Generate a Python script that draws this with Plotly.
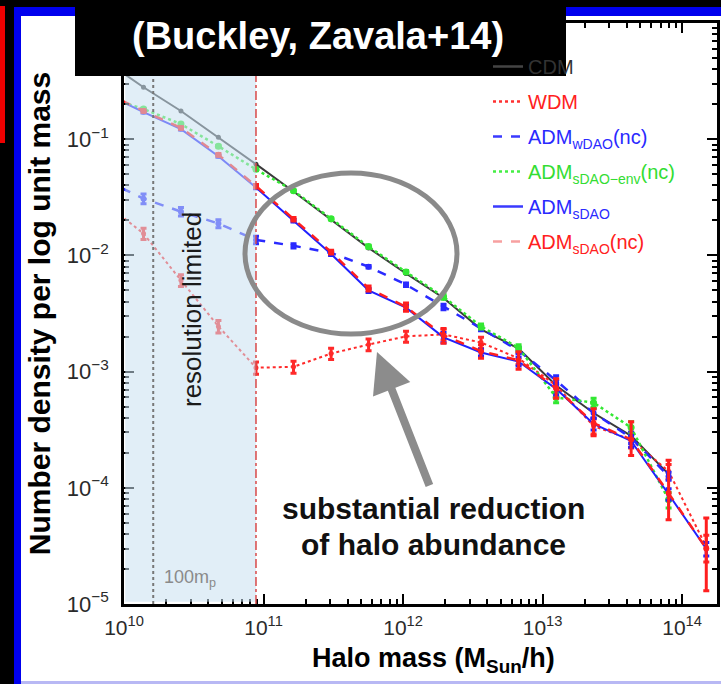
import plotly.graph_objects as go

# ---------------- data ----------------
halo_mass = [7.41e9, 1.38e10, 2.56e10, 4.75e10, 8.83e10, 1.64e11, 3.05e11, 5.66e11,
             1.05e12, 1.95e12, 3.62e12, 6.73e12, 1.25e13, 2.32e13, 4.31e13, 8.0e13, 1.49e14]

cdm = [0.47, 0.28, 0.175, 0.104, 0.061, 0.0355, 0.0203, 0.0116, 0.0070, 0.0043,
       0.00231, 0.00158, 0.00076, 0.00044, 0.00028, 0.000131, None]
wdm = [0.0279, 0.0154, 0.0061, 0.00245, 0.00108, 0.0011, 0.00143, 0.00171, 0.00201,
       0.00209, 0.00178, 0.0013, 0.00076, 0.00034, 0.00026, 0.000139, 0.000031]
adm_wdao_nc = [0.0441, 0.0308, 0.0238, 0.0188, 0.0136, 0.0121, 0.0105, 0.0080, 0.0056,
               0.0036, 0.00235, 0.00152, 0.00084, 0.00044, 0.00027, 0.000126, None]
adm_sdao_env_nc = [0.23, 0.182, 0.135, 0.087, 0.055, 0.036, 0.0207, 0.0119, 0.0072,
                   0.0044, 0.00245, 0.0016, 0.0006, 0.00054, 0.00033, 0.000079, None]
adm_sdao = [0.245, 0.171, 0.122, 0.0713, 0.0384, 0.0199, 0.0103, 0.0050, 0.00355,
            0.00197, 0.00146, 0.00122, 0.00071, 0.000355, 0.000253, 0.000088, 0.0000299]
adm_sdao_nc = [0.25, 0.175, 0.125, 0.0735, 0.0395, 0.0205, 0.0107, 0.0052, 0.0036,
               0.00205, 0.0015, 0.00125, 0.00072, 0.00036, 0.00026, 0.00009, 0.00003]

# error bars
wdm_err = [0.003, 0.0017, 0.0007, 0.0003, 0.00013, 0.00013, 0.00016, 0.0002, 0.00022,
           0.00022, 0.0002, 0.00015, 0.0001, 0.00005, 0.00004, 0.00002, 0.000008]
sdao_nc_err_plus = [0.005, 0.004, 0.003, 0.002, 0.0012, 0.0007, 0.0004, 0.00025, 0.0003,
                    0.0003, 0.0002, 0.00023, 0.00015, 0.00012, 0.00011, 0.000083, 0.000025]
sdao_nc_err_minus = [0.005, 0.004, 0.003, 0.002, 0.0012, 0.0007, 0.0004, 0.00025, 0.0003,
                     0.0003, 0.0002, 0.0002, 0.00013, 0.00008, 0.00007, 0.000037, 0.000017]
env_err = [0.004, 0.003, 0.002, 0.0015, 0.001, 0.0006, 0.0004, 0.0003, 0.0002, 0.0002,
           0.00012, 0.0001, 0.00006, 0.00005, 0.00004, 0.000012, 0]
sdao_err = [0.004, 0.003, 0.002, 0.0015, 0.001, 0.0005, 0.0003, 0.0002, 0.0002, 0.0002,
            0.0001, 0.0001, 0.00008, 0.00004, 0.00003, 0.00001, 0.000004]

res_mass = 8.83e10        # resolution limit (red dashed line)
mp100_mass = 1.62e10      # 100 particle masses (grey dotted line)

x_tick_vals = [1e10, 1e11, 1e12, 1e13, 1e14]
x_tick_text = ["10<sup>10</sup>", "10<sup>11</sup>", "10<sup>12</sup>", "10<sup>13</sup>", "10<sup>14</sup>"]
y_tick_vals = [1e-5, 1e-4, 1e-3, 1e-2, 1e-1]
y_tick_text = ["10<sup>−5</sup>", "10<sup>−4</sup>", "10<sup>−3</sup>", "10<sup>−2</sup>", "10<sup>−1</sup>"]

legend_names = ["CDM", "WDM", "ADM<sub>wDAO</sub>(nc)", "ADM<sub>sDAO−env</sub>(nc)",
                "ADM<sub>sDAO</sub>", "ADM<sub>sDAO</sub>(nc)"]

# ---------------- layout geometry ----------------
W, H = 721, 684
L, R, T, B = 124, 4, 23, 80
PW, PH = W - L - R, H - T - B


def px(xp):
    return (xp - L) / PW


def py(yp):
    return (H - B - yp) / PH


FONT = "Liberation Sans"
fig = go.Figure()

series = [
    # (y, color, dash, width, marker size, err+, err-, legend text color)
    (cdm, "#3a3a3a", "solid", 2, 5, None, None, "#333333"),
    (wdm, "#ff2a2a", "dot", 2, 5, wdm_err, wdm_err, "#ff2020"),
    (adm_wdao_nc, "#2a2aff", "dash", 2.5, 6, sdao_err, sdao_err, "#2a2aff"),
    (adm_sdao_env_nc, "#33e833", "dot", 2.5, 7, env_err, env_err, "#33dd33"),
    (adm_sdao, "#2020ff", "solid", 2, 5, sdao_err, sdao_err, "#2a2aff"),
    (adm_sdao_nc, "#ff1f1f", "dash", 2.5, 6, sdao_nc_err_plus, sdao_nc_err_minus, "#ff2020"),
]
legend_line_colors = ["#444444", "#ff3030", "#3a3aff", "#44ee44", "#3a3aff", "#f7a0a0"]

for i, (yv, col, dash, w, ms, ep, em, tcol) in enumerate(series):
    err = None
    if ep is not None:
        err = dict(type="data", array=ep, arrayminus=em, symmetric=False,
                   color=col, thickness=3, width=3)
    fig.add_trace(go.Scatter(
        x=halo_mass, y=yv, mode="lines+markers",
        line=dict(color=col, dash=dash, width=w),
        marker=dict(color=col, size=ms, symbol="circle"),
        error_y=err, showlegend=False, connectgaps=False, hoverinfo="skip"))

for i, (yv, col, dash, w, ms, ep, em, tcol) in enumerate(series):
    fig.add_trace(go.Scatter(
        x=[None], y=[None], mode="lines",
        line=dict(color=legend_line_colors[i], dash=dash, width=2.5),
        name=f"<span style='color:{tcol}'>{legend_names[i]}</span>",
        legendgroup=f"g{i}", showlegend=True))

shapes = []
# slide background & borders
shapes.append(dict(type="rect", xref="paper", yref="paper", layer="below",
                   x0=px(21), x1=px(W + 5), y0=py(681), y1=py(16),
                   fillcolor="white", line=dict(width=0)))
shapes.append(dict(type="rect", xref="paper", yref="paper", layer="below",
                   x0=px(14), x1=px(W + 5), y0=py(16), y1=py(7),
                   fillcolor="#0000ee", line=dict(width=0)))
shapes.append(dict(type="rect", xref="paper", yref="paper", layer="below",
                   x0=px(14), x1=px(21), y0=py(H + 5), y1=py(7),
                   fillcolor="#0000ee", line=dict(width=0)))
shapes.append(dict(type="rect", xref="paper", yref="paper", layer="below",
                   x0=px(21), x1=px(W + 5), y0=py(H + 5), y1=py(681),
                   fillcolor="#b8b8f4", line=dict(width=0)))
shapes.append(dict(type="rect", xref="paper", yref="paper", layer="below",
                   x0=px(0), x1=px(5), y0=py(143), y1=py(6),
                   fillcolor="#ee0000", line=dict(width=0)))
# resolution-limited shading
shapes.append(dict(type="rect", xref="x", yref="paper", layer="above",
                   x0=1.02e10, x1=res_mass, y0=0.004, y1=1,
                   fillcolor="rgb(200,224,240)", opacity=0.55, line=dict(width=0)))
# vertical guide lines
shapes.append(dict(type="line", xref="x", yref="paper", layer="above",
                   x0=mp100_mass, x1=mp100_mass, y0=0, y1=1,
                   line=dict(color="#777777", width=2, dash="dot")))
shapes.append(dict(type="line", xref="x", yref="paper", layer="above",
                   x0=res_mass, x1=res_mass, y0=0, y1=1,
                   line=dict(color="#d84a4a", width=1.5, dash="dashdot")))
# grey ellipse
shapes.append(dict(type="circle", xref="paper", yref="paper", layer="above",
                   x0=px(245), x1=px(457), y0=py(334), y1=py(173),
                   line=dict(color="#8a8a8a", width=5)))
# title box
shapes.append(dict(type="rect", xref="paper", yref="paper", layer="above",
                   x0=px(75), x1=px(566), y0=py(76), y1=py(-5),
                   fillcolor="black", line=dict(width=0)))

annotations = [
    dict(xref="paper", yref="paper", x=px(318), y=py(36), text="(Buckley, Zavala+14)",
         showarrow=False, font=dict(family=FONT, size=38, color="white", weight="bold"),
         xanchor="center", yanchor="middle"),
    dict(xref="paper", yref="paper", x=px(192), y=py(310), text="resolution limited",
         textangle=-90, showarrow=False, font=dict(family=FONT, size=26, color="#1a1a1a"),
         xanchor="center", yanchor="middle"),
    dict(xref="paper", yref="paper", x=px(162), y=py(578), text="100m<sub>p</sub>",
         showarrow=False, font=dict(family=FONT, size=18, color="#8a8a8a"),
         xanchor="left", yanchor="middle"),
    dict(xref="paper", yref="paper", x=px(433), y=py(509), text="substantial reduction",
         showarrow=False, font=dict(family=FONT, size=30, color="#111111", weight="bold"),
         xanchor="center", yanchor="middle"),
    dict(xref="paper", yref="paper", x=px(433), y=py(544), text="of halo abundance",
         showarrow=False, font=dict(family=FONT, size=30, color="#111111", weight="bold"),
         xanchor="center", yanchor="middle"),
    dict(xref="paper", yref="paper", x=px(377), y=py(352), text="",
         showarrow=True, arrowhead=2, arrowsize=1.0, arrowwidth=8, arrowcolor="#8c8c8c",
         ax=53, ay=135, standoff=0),
    dict(xref="paper", yref="paper", x=px(433), y=py(660),
         text="Halo mass (M<sub>Sun</sub>/h)",
         showarrow=False, font=dict(family=FONT, size=27, color="black", weight="bold"),
         xanchor="center", yanchor="middle"),
]

xminor = [k * 10 ** d for d in range(10, 15) for k in range(2, 10) if k * 10 ** d < 1.8e14]
yminor = [k * 10.0 ** d for d in range(-5, 0) for k in range(2, 10)]

fig.update_layout(
    width=W, height=H,
    margin=dict(l=L, r=R, t=T, b=B, autoexpand=False),
    paper_bgcolor="black", plot_bgcolor="white",
    font=dict(family=FONT, color="#222222"),
    shapes=shapes, annotations=annotations,
    showlegend=True,
    legend=dict(x=px(488), y=py(47), xanchor="left", yanchor="top",
                bgcolor="rgba(0,0,0,0)", font=dict(family=FONT, size=20),
                tracegroupgap=6, itemwidth=30),
    xaxis=dict(type="log", range=[10, 14.25], showgrid=False, zeroline=False,
               showline=True, linecolor="black", linewidth=2.5, mirror="ticks",
               ticks="inside", ticklen=10, tickwidth=2, tickcolor="black",
               tickmode="array", tickvals=x_tick_vals, ticktext=x_tick_text,
               tickfont=dict(size=21, color="#2a2a2a"), ticklabelstandoff=3,
               minor=dict(tickmode="array", tickvals=xminor, ticks="inside",
                          ticklen=5, tickwidth=2, tickcolor="black")),
    yaxis=dict(type="log", range=[-5, 0], showgrid=False, zeroline=False,
               showline=True, linecolor="black", linewidth=2.5, mirror="ticks",
               ticks="inside", ticklen=10, tickwidth=2, tickcolor="black",
               tickmode="array", tickvals=y_tick_vals, ticktext=y_tick_text,
               tickfont=dict(size=22, color="#2a2a2a"), ticklabelstandoff=8,
               minor=dict(tickmode="array", tickvals=yminor, ticks="inside",
                          ticklen=5, tickwidth=2, tickcolor="black"),
               title=dict(text="Number density per log unit mass", standoff=8,
                          font=dict(family=FONT, size=30, color="black", weight="bold"))),
)

fig.write_html("out.html")
